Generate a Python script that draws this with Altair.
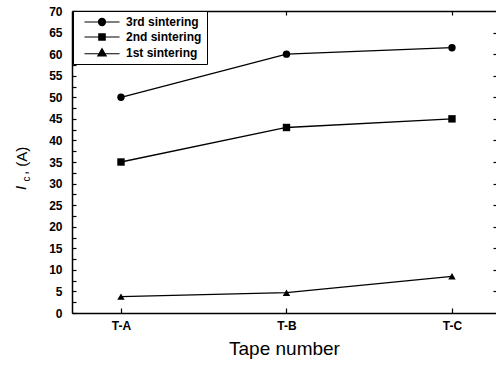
import altair as alt
import pandas as pd

tapes = ["T-A", "T-B", "T-C"]
series_names = ["3rd sintering", "2nd sintering", "1st sintering"]
third = [50, 60, 61.5]
second = [35, 43, 45]
first = [3.8, 4.7, 8.5]

rows = []
for name, vals in zip(series_names, [third, second, first]):
    for i, (t, v) in enumerate(zip(tapes, vals)):
        rows.append({"idx": i, "tape": t, "series": name, "ic": v})
df = pd.DataFrame(rows)

W, H = 424, 302
FONT = "Liberation Sans"
label_expr = "[" + ",".join("'%s'" % t for t in tapes) + "][datum.value]"

xscale = alt.Scale(domain=[-0.296, 2.266], nice=False, zero=False)
yscale = alt.Scale(domain=[0, 70], nice=False, zero=False)

base = alt.Chart(df)

lines = base.mark_line(color="black", strokeWidth=1.3).encode(
    x=alt.X("idx:Q", scale=xscale, axis=alt.Axis(
        orient="bottom", title="Tape number", values=[0, 1, 2], labelExpr=label_expr,
        ticks=False, tickSize=0, labelPadding=7,
        labelFont=FONT, labelFontSize=12, labelFontWeight="bold", labelColor="black",
        labelAngle=0, titleFont=FONT, titleFontSize=19, titleFontWeight="normal",
        titleColor="black", titlePadding=8, domainColor="black", domainWidth=1.5, grid=False)),
    y=alt.Y("ic:Q", scale=yscale, axis=alt.Axis(
        orient="left", title=None, ticks=False, tickSize=0, labelPadding=10,
        values=list(range(0, 71, 5)), labelFont=FONT, labelFontSize=12,
        labelFontWeight="bold", labelColor="black", domainColor="black",
        domainWidth=1.5, grid=False)),
    detail="series:N",
)

shape_order = series_names
points = base.mark_point(filled=True, opacity=1, color="black", size=55).encode(
    x=alt.X("idx:Q", scale=xscale, axis=None),
    y=alt.Y("ic:Q", scale=yscale, axis=None),
    shape=alt.Shape("series:N", scale=alt.Scale(domain=shape_order,
                    range=["circle", "square", "triangle-up"]), legend=None),
)

# legend symbols: a line segment with a solid marker (solid via concentric strokes)
ks = [1.0, 0.8, 0.6, 0.4, 0.2, 0.05]
circ = "M-3.5,0H3.5" + "".join(
    "M%.3f,0A%.3f,%.3f 0 1,0 %.3f,0A%.3f,%.3f 0 1,0 %.3f,0" % (-0.72 * k, 0.72 * k, 0.72 * k, 0.72 * k, 0.72 * k, 0.72 * k, -0.72 * k)
    for k in ks)
sq = "M-3.5,0H3.5" + "".join(
    "M%.3f,%.3fH%.3fV%.3fH%.3fZ" % (-0.65 * k, -0.65 * k, 0.65 * k, 0.65 * k, -0.65 * k)
    for k in ks)
tri = "M-3.5,0.15H3.5" + "".join(
    "M0,%.3fL%.3f,%.3fL%.3f,%.3fZ" % (0.05 - 0.95 * k, 0.85 * k, 0.05 + 0.55 * k, -0.85 * k, 0.05 + 0.55 * k)
    for k in ks)
legend_paths = [circ, sq, tri]

legend_layer = base.mark_point(filled=False, opacity=0, color="black",
                               strokeWidth=1.1, size=100).encode(
    x=alt.X("idx:Q", scale=xscale, axis=None),
    y=alt.Y("ic:Q", scale=yscale, axis=None),
    shape=alt.Shape("series:N", scale=alt.Scale(domain=shape_order, range=legend_paths),
                    legend=alt.Legend(
                        title=None, orient="none", legendX=1, legendY=0,
                        symbolSize=100, symbolOpacity=1,
                        symbolStrokeColor="black", symbolStrokeWidth=1.1,
                        symbolOffset=18, labelOffset=18, padding=5, rowPadding=3,
                        labelFont=FONT, labelFontSize=12, labelFontWeight="bold",
                        labelColor="black", strokeColor="black", fillColor="white")),
)

inner_ticks = base.mark_point(opacity=0).encode(
    x=alt.X("idx:Q", scale=xscale, axis=alt.Axis(
        orient="bottom", offset=-H, labels=False, title=None, ticks=True, tickSize=4,
        values=[0, 1, 2], tickColor="black", tickWidth=1.2, domain=True,
        domainColor="black", domainWidth=1.5, grid=False)),
    y=alt.Y("ic:Q", scale=yscale, axis=alt.Axis(
        orient="right", offset=-W, labels=False, title=None, ticks=True, tickSize=4,
        tickColor="black", tickWidth=1.2, domain=False, grid=False,
        values=[v * 2.5 for v in range(0, 29)])),
)

edge_ticks = base.mark_point(opacity=0).encode(
    x=alt.X("idx:Q", scale=xscale, axis=alt.Axis(
        orient="top", offset=-H, labels=False, title=None, ticks=True, tickSize=5,
        values=[0, 1, 2], tickColor="black", tickWidth=1.2, domain=False, grid=False)),
    y=alt.Y("ic:Q", scale=yscale, axis=alt.Axis(
        orient="left", offset=-W, labels=False, title=None, ticks=True, tickSize=3,
        tickColor="black", tickWidth=1.2, domain=False, grid=False,
        values=list(range(5, 70, 5)))),
)

one = pd.DataFrame({"t": [""]})
t_I = alt.Chart(one).mark_text(text="I", angle=270, font=FONT, fontSize=15,
                               fontStyle="italic", color="black", align="center",
                               baseline="middle").encode(x=alt.value(-51), y=alt.value(177))
t_c = alt.Chart(one).mark_text(text="c", angle=270, font=FONT, fontSize=10,
                               color="black", align="center",
                               baseline="middle").encode(x=alt.value(-45), y=alt.value(168))
t_A = alt.Chart(one).mark_text(text=", (A)", angle=270, font=FONT, fontSize=15,
                               color="black", align="left",
                               baseline="middle").encode(x=alt.value(-50), y=alt.value(164))

chart = alt.layer(lines, points, legend_layer, inner_ticks, edge_ticks, t_I, t_c, t_A).resolve_scale(
    shape="independent"
).resolve_axis(x="independent", y="independent").properties(
    width=W, height=H,
    autosize=alt.AutoSizeParams(type="none"),
    padding={"left": 72, "top": 11, "right": 0, "bottom": 55},
).configure_view(stroke=None).configure_legend(strokeWidth=1.5).configure(background="white")

chart.save("out.html", embed_options={"renderer": "svg", "actions": False})
